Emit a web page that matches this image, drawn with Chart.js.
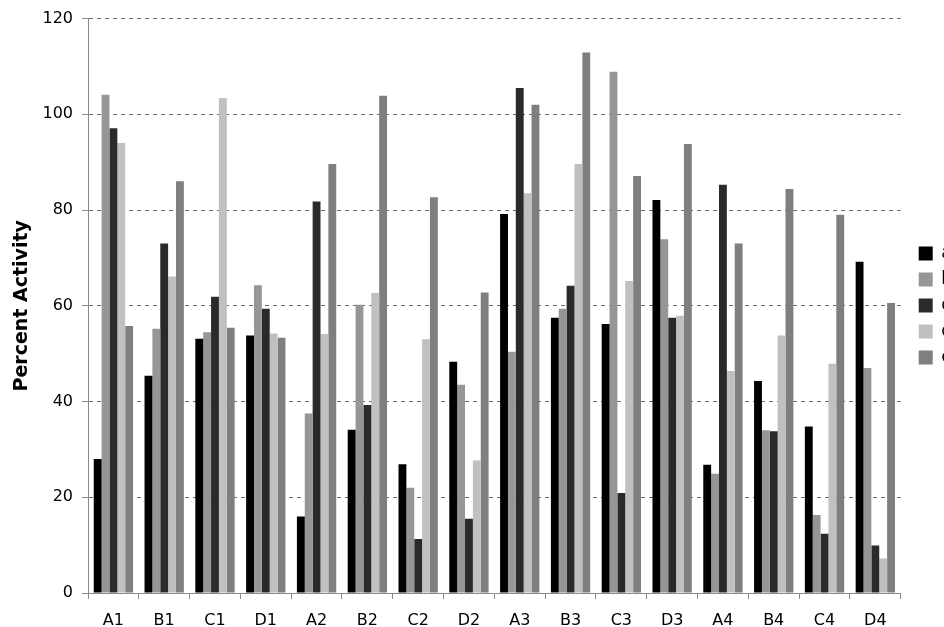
<!DOCTYPE html>
<html>
<head>
<meta charset="utf-8">
<script src="https://cdn.jsdelivr.net/npm/chart.js@4.4.1/dist/chart.umd.min.js"></script>
<style>
  html, body { margin: 0; padding: 0; background: #fff; overflow: hidden; }
  #wrap { width: 944px; height: 627px; overflow: hidden; position: relative; }
  canvas { display: block; }
</style>
</head>
<body>
<div id="wrap"><canvas id="c" width="953" height="627"></canvas></div>
<script>
const categories = ['A1','B1','C1','D1','A2','B2','C2','D2','A3','B3','C3','D3','A4','B4','C4','D4'];
const seriesNames = ['a','b','c','d','e'];
const seriesA = [28.0, 45.4, 53.1, 53.8, 16.0, 34.1, 26.9, 48.3, 79.2, 57.5, 56.2, 82.1, 26.8, 44.3, 34.8, 69.2];
const seriesB = [104.1, 55.2, 54.5, 64.3, 37.5, 60.2, 22.0, 43.5, 50.4, 59.4, 108.9, 73.9, 24.9, 34.0, 16.3, 47.0];
const seriesC = [97.1, 73.0, 61.9, 59.4, 81.8, 39.3, 11.3, 15.5, 105.5, 64.2, 20.9, 57.5, 85.3, 33.8, 12.4, 9.9];
const seriesD = [94.0, 66.1, 103.4, 54.2, 54.1, 62.7, 53.0, 27.7, 83.5, 89.6, 65.2, 57.9, 46.4, 53.8, 47.9, 7.2];
const seriesE = [55.8, 86.0, 55.4, 53.3, 89.6, 103.9, 82.7, 62.8, 102.0, 112.9, 87.1, 93.8, 73.0, 84.4, 79.0, 60.6];
const yTicks = [0, 20, 40, 60, 80, 100, 120];

const colors = ['#000000', '#969696', '#2a2a2a', '#c0c0c0', '#7f7f7f'];
const allSeries = [seriesA, seriesB, seriesC, seriesD, seriesE];

const legendShift = {
  id: 'legendShift',
  afterLayout(chart) {
    const lg = chart.legend;
    if (lg) { lg.left += 9; lg.right += 9; lg.top -= 14; lg.bottom -= 14; }
  }
};

new Chart(document.getElementById('c'), {
  type: 'bar',
  data: {
    labels: categories,
    datasets: allSeries.map((vals, i) => ({
      label: seriesNames[i],
      data: vals,
      backgroundColor: colors[i],
      borderWidth: 0,
      categoryPercentage: 0.774,
      barPercentage: 1.0
    }))
  },
  options: {
    responsive: false,
    animation: false,
    layout: { padding: { top: 12, left: 0, right: 0, bottom: 0 } },
    plugins: {
      tooltip: { enabled: false },
      legend: {
        position: 'right',
        labels: {
          boxWidth: 14,
          boxHeight: 14,
          padding: 9,
          color: '#000',
          font: { family: 'DejaVu Sans', size: 17 }
        }
      }
    },
    scales: {
      x: {
        afterFit(scale) { scale.height = 34; },
        grid: {
          offset: true,
          drawOnChartArea: false,
          drawTicks: true,
          tickLength: 6,
          tickColor: '#8a8a8a',
          color: '#8a8a8a'
        },
        border: { display: true, color: '#8a8a8a', width: 1 },
        ticks: {
          color: '#000',
          padding: 12,
          maxRotation: 0,
          autoSkip: false,
          font: { family: 'DejaVu Sans', size: 16 }
        }
      },
      y: {
        min: 0,
        max: 120,
        afterBuildTicks(scale) { scale.ticks = yTicks.map(v => ({ value: v })); },
        afterFit(scale) { scale.width = 88; },
        grid: {
          color: '#6e6e6e',
          lineWidth: 1,
          drawTicks: true,
          tickLength: 6,
          tickColor: '#8a8a8a'
        },
        border: { display: true, color: '#8a8a8a', width: 1, dash: [4, 4] },
        ticks: {
          color: '#000',
          padding: 9,
          font: { family: 'DejaVu Sans', size: 16 }
        },
        title: {
          display: true,
          text: 'Percent Activity',
          color: '#000',
          padding: { top: 11, bottom: 0 },
          font: { family: 'DejaVu Sans', size: 19, weight: 'bold' }
        }
      }
    }
  },
  plugins: [legendShift]
});
</script>
</body>
</html>
